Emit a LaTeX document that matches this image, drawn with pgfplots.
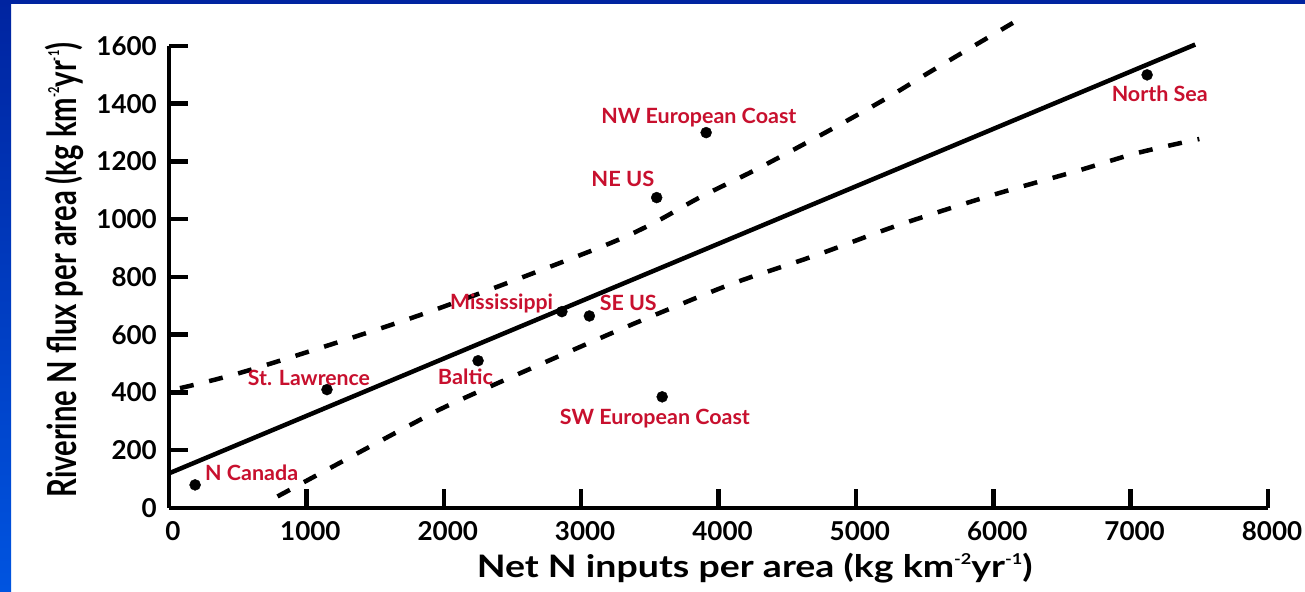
\documentclass[border=0pt]{standalone}
\usepackage{fontspec}
\setmainfont{Lato}
\usepackage{pgfplots}
\pgfplotsset{compat=1.18}
\definecolor{labred}{RGB}{200,16,46}
\definecolor{bluetop}{RGB}{0,36,160}
\definecolor{bluebot}{RGB}{0,84,224}
\newcommand{\supx}[1]{\raisebox{0.42em}{\fontsize{15}{15}\selectfont #1}}
\begin{document}
\begin{tikzpicture}[x=1pt,y=1pt]
\fill[white] (0,0) rectangle (1305,591);
\shade[top color=bluetop, bottom color=bluebot] (0,0) rectangle (11,591);
\fill[bluetop] (0,587) rectangle (1305,591);
\begin{axis}[
  at={(169pt,83pt)}, anchor=south west,
  scale only axis, width=1099pt, height=462pt,
  xmin=0, xmax=8000, ymin=0, ymax=1600,
  clip=false,
  axis lines*=left,
  axis line style={line width=4.5pt, black},
  tick align=inside,
  major tick length=19pt,
  every tick/.style={line width=4.5pt, black},
  xtick={0,1000,2000,3000,4000,5000,6000,7000,8000},
  xticklabels={0,1000,2000,3000,4000,5000,6000,7000,8000},
  ytick={0,200,400,600,800,1000,1200,1400,1600},
  yticklabels={0,200,400,600,800,1000,1200,1400,1600},
  ticklabel style={font=\fontsize{26}{26}\selectfont\bfseries, inner sep=0pt},
  xticklabel style={anchor=north, yshift=-13pt, xshift=4pt},
  yticklabel style={anchor=east, xshift=-12pt},
  xlabel={\resizebox{556pt}{\height}{Net N inputs per area (kg km\supx{-2}yr\supx{-1})}},
  ylabel={\resizebox{455pt}{\height}{Riverine N flux per area (kg km\supx{-2}yr\supx{-1})}},
  every axis x label/.style={at={(axis description cs:0.533,-0.1515)}, anchor=base, font=\fontsize{31}{31}\selectfont\bfseries},
  every axis y label/.style={at={(axis description cs:-0.0846,0.515)}, rotate=90, anchor=base, font=\fontsize{40}{40}\selectfont\bfseries},
]
\pgfplotsinvokeforeach{200,400,600,800,1000,1200,1400,1600}{
  \draw[line width=4.5pt, black] (axis cs:0,#1) -- ++(19pt,0pt);
}
\addplot[only marks, mark=*, mark size=5.5pt, black] coordinates {
  (190,80) (1150,410) (2250,510) (2860,680) (3060,665)
  (3590,385) (3550,1075) (3910,1300) (7120,1500)};
\addplot[black, line width=4.5pt] coordinates {(0,120) (7470,1605)};
\addplot[black, line width=4.5pt, dash pattern=on 14pt off 16pt, smooth] coordinates {
  (80,415) (610,481) (1850,672) (3086,893) (3500,980) (3865,1076)
  (4277,1173) (4835,1315) (5223,1419) (5563,1517) (6143,1680)};
\addplot[black, line width=4.5pt, dash pattern=on 14pt off 16pt, smooth] coordinates {
  (790,40) (1754,287) (2118,374) (3137,588) (3595,680) (4107,778)
  (4714,876) (5300,978) (5975,1081) (6608,1167) (7045,1229) (7500,1278)};
\begin{scope}[every node/.style={text=labred, font=\fontsize{21}{21}\selectfont\bfseries, inner sep=0pt}]
\node at (axis cs:602,122) {\resizebox{93pt}{\height}{N Canada}};
\node at (axis cs:1019,449) {\resizebox{122pt}{\height}{St. Lawrence}};
\node at (axis cs:2158,455) {\resizebox{55pt}{\height}{Baltic}};
\node at (axis cs:2421,709) {\resizebox{103pt}{\height}{Mississippi}};
\node at (axis cs:3343,709) {\resizebox{57pt}{\height}{SE US}};
\node at (axis cs:3537,311) {\resizebox{190pt}{\height}{SW European Coast}};
\node at (axis cs:3304,1139) {\resizebox{63pt}{\height}{NE US}};
\node at (axis cs:3857,1353) {\resizebox{195pt}{\height}{NW European Coast}};
\node at (axis cs:7212,1436) {\resizebox{96pt}{\height}{North Sea}};
\end{scope}
\end{axis}
\pgfresetboundingbox
\path (0,0) rectangle (1305,591);
\end{tikzpicture}
\end{document}
